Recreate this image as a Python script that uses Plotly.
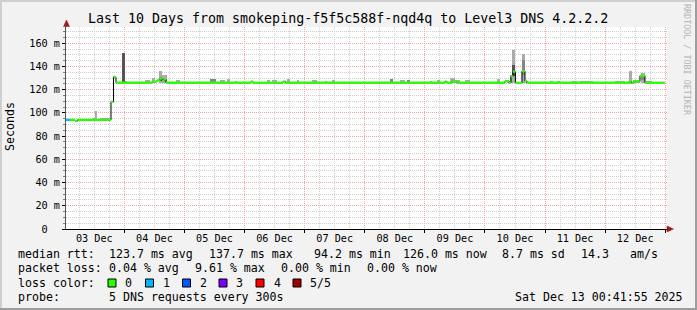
import plotly.graph_objects as go
import pandas as pd

# ---------------- data (hours since 2025-12-03 00:00) ----------------
BASE = pd.Timestamp("2025-12-03 00:00:00")
T_START = pd.Timestamp("2025-12-03 00:41:55")
T_END = pd.Timestamp("2025-12-13 00:41:55")

# median rtt: step start (h), value (ms), lost pings in that step
med_start_h = [0.70, 2.30, 4.29, 5.29, 18.67, 19.67, 20.66, 35.04, 37.04, 38.23,
               39.03, 39.83, 40.63, 74.57, 75.37, 87.35, 88.35, 152.03, 152.83, 154.83,
               156.83, 176.0, 177.59, 178.39, 179.19, 180.18, 182.78, 183.98, 184.78, 225.51,
               226.50, 227.50, 229.90, 231.89]
med_value = [94, 94, 93, 94, 109.5, 131, 126, 127, 128, 129.5,
             127.5, 129, 126, 127, 126, 127, 126, 127, 126, 127,
             126, 127.5, 126, 131.5, 135.5, 126, 136, 127.5, 126, 127,
             126, 127, 132, 126]
med_loss = [1] + [0] * 33
med_end_h = 239.7

# smoke (ping spread): start h, end h, low ms, high ms, shade
smoke_h0 = [11.48, 12.28, 14.28, 23.06, 24.26, 32.24, 35.04, 37.83, 38.23, 39.03,
            44.62, 58.20, 62.19, 64.99, 68.18, 80.96, 82.95, 88.94, 92.94, 98.93,
            104.12, 106.91, 130.07, 134.07, 136.86, 146.04, 148.84, 154.03, 156.03, 160.02,
            172.80, 176.79, 177.99, 178.79, 178.79, 182.78, 182.78, 183.98, 193.96, 196.76,
            202.75, 205.94, 219.92, 225.51, 227.10, 230.30, 230.30, 231.89]
smoke_h1 = [12.28, 13.08, 18.67, 24.26, 25.06, 34.24, 36.24, 39.03, 39.03, 41.03,
            46.22, 60.59, 64.19, 66.18, 68.98, 82.16, 84.95, 90.14, 93.74, 100.92,
            104.92, 108.11, 131.27, 136.06, 138.06, 146.84, 150.04, 156.03, 158.02, 162.02,
            174.0, 177.59, 178.79, 179.98, 179.98, 183.98, 183.98, 184.78, 195.16, 197.96,
            204.75, 211.13, 223.91, 226.70, 229.90, 231.89, 231.89, 234.69]
smoke_lo = [94, 94, 94, 126, 125.5, 125.5, 126, 126, 127.5, 126,
            126, 126, 126, 126, 126, 126, 126, 126, 126, 126,
            126, 126, 126, 126, 126, 126, 126, 126, 126, 126,
            126, 126, 126, 126, 132, 126, 133, 126, 126, 126,
            126, 126, 126, 125, 126, 126, 128, 126]
smoke_hi = [96, 101.5, 96, 152, 127.5, 128, 130, 136.5, 131, 132.5,
            128.5, 129.5, 128, 129.5, 127.5, 128, 128, 129, 128, 128,
            127.5, 128, 129, 128, 128.5, 127.5, 128, 130.5, 128.5, 128,
            129.5, 128.5, 133, 154.5, 141, 150.5, 146, 128.5, 127.5, 127.5,
            127.5, 127.5, 127.5, 136, 128.5, 134, 131, 127.5]
smoke_shade = ["L", "L", "L", "D", "L", "L", "L", "L", "M", "L",
               "L", "M", "L", "L", "L", "L", "L", "L", "L", "L",
               "L", "L", "M", "L", "M", "L", "L", "L", "L", "L",
               "L", "L", "L", "L", "D", "L", "M", "L", "L", "L",
               "L", "L", "L", "L", "L", "L", "M", "L"]

y_tickvals = [0, 20, 40, 60, 80, 100, 120, 140, 160]
y_ticktext = ["0\u00a0\u00a0", "20 m", "40 m", "60 m", "80 m", "100 m", "120 m", "140 m", "160 m"]

loss_colors = ["#26ff00", "#00b8ff", "#0059ff", "#7e00ff", "#ff0000", "#a10000"]
loss_labels = ["0", "1", "2", "3", "4", "5/5"]
shade_colors = {"L": "#ababab", "M": "#858585", "D": "#5a5252"}

# ---------------- layout geometry ----------------
W, H = 697, 310
L, R, T, B = 66, 30, 27, 81
PW, PH = W - L - R, H - T - B
FONT = "DejaVu Sans Mono"


def px(x):
    return (x - L) / PW


def py(y):
    return (H - B - y) / PH


def t(h):
    return BASE + pd.to_timedelta(h, unit="h")


fig = go.Figure()

# smoke bars
for shade in ["L", "M", "D"]:
    idx = [i for i, s in enumerate(smoke_shade) if s == shade]
    fig.add_trace(go.Bar(
        x=[t((smoke_h0[i] + smoke_h1[i]) / 2) for i in idx],
        y=[smoke_hi[i] - smoke_lo[i] for i in idx],
        base=[smoke_lo[i] for i in idx],
        width=[(smoke_h1[i] - smoke_h0[i]) * 3600000 for i in idx],
        marker=dict(color=shade_colors[shade], line=dict(width=0)),
        showlegend=False, hoverinfo="skip"))

# black step line for the median
step_x = [t(h) for h in med_start_h] + [t(med_end_h)]
step_y = med_value + [med_value[-1]]
fig.add_trace(go.Scatter(x=step_x, y=step_y, mode="lines", line=dict(color="#000000", width=1, shape="hv"),
                         showlegend=False, hoverinfo="skip"))

# coloured horizontal segments by loss
ends = med_start_h[1:] + [med_end_h]
for lv in sorted(set(med_loss)):
    xs, ys = [], []
    for i, l in enumerate(med_loss):
        if l == lv:
            xs += [t(med_start_h[i]), t(ends[i]), None]
            ys += [med_value[i], med_value[i], None]
    fig.add_trace(go.Scatter(x=xs, y=ys, mode="lines", line=dict(color=loss_colors[lv], width=2.2),
                             showlegend=False, hoverinfo="skip"))

major_grid = "#f4a4a4"
minor_grid = "#cfcfcf"
fig.update_layout(
    width=W, height=H,
    margin=dict(l=L, r=R, t=T, b=B, pad=0),
    paper_bgcolor="#f2f2f2", plot_bgcolor="#ffffff",
    barmode="overlay", bargap=0,
    showlegend=False,
    font=dict(family=FONT, size=10.2, color="#000000"),
    xaxis=dict(type="date", range=[T_START, T_END], tick0="2025-12-03", dtick=86400000,
               tickformat="%d %b", ticklabelmode="period", ticklabelstandoff=-3,
               showgrid=True, gridcolor=major_grid, griddash="1px,1px", gridwidth=1,
               minor=dict(dtick=6 * 3600000, showgrid=True, gridcolor=minor_grid, griddash="1px,1px"),
               ticks="outside", ticklen=3, tickcolor="#000000",
               showline=True, linecolor="#000000", linewidth=1, zeroline=False,
               tickfont=dict(family=FONT, size=10.2)),
    yaxis=dict(range=[0, 174], tickvals=y_tickvals, ticktext=y_ticktext,
               showgrid=True, gridcolor=major_grid, griddash="1px,1px", gridwidth=1,
               minor=dict(dtick=5, tick0=0, showgrid=True, gridcolor=minor_grid, griddash="1px,1px",
                          ticks="outside", ticklen=2, tickcolor="#808080"),
               ticks="outside", ticklen=3, tickcolor="#000000",
               showline=True, linecolor="#555555", linewidth=1, zeroline=False,
               tickfont=dict(family=FONT, size=10.2)),
)

shapes = []
# frame (3D border)
shapes.append(dict(type="line", xref="paper", yref="paper", x0=px(0), x1=px(W), y0=py(1), y1=py(1),
                   line=dict(color="#cfcfcf", width=2)))
shapes.append(dict(type="line", xref="paper", yref="paper", x0=px(1), x1=px(1), y0=py(0), y1=py(H),
                   line=dict(color="#cfcfcf", width=2)))
shapes.append(dict(type="line", xref="paper", yref="paper", x0=px(0), x1=px(W), y0=py(H - 1), y1=py(H - 1),
                   line=dict(color="#9e9e9e", width=2)))
shapes.append(dict(type="line", xref="paper", yref="paper", x0=px(W - 1), x1=px(W - 1), y0=py(0), y1=py(H),
                   line=dict(color="#9e9e9e", width=2)))
# axis arrows
arrow_col = "#a01818"
shapes.append(dict(type="path", xref="paper", yref="paper",
                   path=f"M {px(63.5)} {py(26.5)} L {px(69.5)} {py(26.5)} L {px(66.5)} {py(20)} Z",
                   fillcolor=arrow_col, line=dict(color=arrow_col, width=0.5)))
shapes.append(dict(type="line", xref="paper", yref="paper", x0=px(66), x1=px(66), y0=py(27), y1=py(25),
                   line=dict(color="#555555", width=1)))
shapes.append(dict(type="path", xref="paper", yref="paper",
                   path=f"M {px(667)} {py(226)} L {px(667)} {py(232)} L {px(673.5)} {py(229)} Z",
                   fillcolor=arrow_col, line=dict(color=arrow_col, width=0.5)))
# loss colour swatches
sw_x = [108, 145.5, 182.5, 219, 256, 293]
for c, sx in zip(loss_colors, sw_x):
    shapes.append(dict(type="rect", xref="paper", yref="paper", x0=px(sx), x1=px(sx + 8),
                       y0=py(287), y1=py(279), fillcolor=c, line=dict(color="#000000", width=1)))
fig.update_layout(shapes=shapes)

ann = []


def text(x, y, s, size=11.6, anchor="left", color="#000000", angle=0):
    ann.append(dict(x=px(x), y=py(y), xref="paper", yref="paper", text=s, showarrow=False,
                    xanchor=anchor, yanchor="middle", textangle=angle,
                    font=dict(family=FONT, size=size, color=color)))


text(347.5, 19, "Last 10 Days from smokeping-f5f5c588f-nqd4q to Level3 DNS 4.2.2.2", size=13.3, anchor="center")
text(10, 127, "Seconds", angle=-90, anchor="center")
text(687, 60, "RRDTOOL / TOBI OETIKER", size=8.4, anchor="center", color="#b4b4b4", angle=90)

row1 = [(16, "median rtt:"), (107, "123.7 ms avg"), (207, "137.7 ms max"), (312, "94.2 ms min"),
        (401, "126.0 ms now"), (500, "8.7 ms sd"), (579, "14.3"), (628, "am/s")]
row2 = [(16, "packet loss:"), (107, "0.04 % avg"), (193, "9.61 % max"), (279, "0.00 % min"), (365, "0.00 % now")]
row3 = [(16, "loss color:")] + list(zip([123, 160.5, 197.5, 234.5, 271.5, 308], loss_labels))
row4 = [(16, "probe:"), (107, "5 DNS requests every 300s"), (513, "Sat Dec 13 00:41:55 2025")]
for yy, row in [(254, row1), (268.3, row2), (282.7, row3), (296.7, row4)]:
    for xx, s in row:
        text(xx, yy, s)

fig.update_layout(annotations=ann)
fig.write_html("out.html")
